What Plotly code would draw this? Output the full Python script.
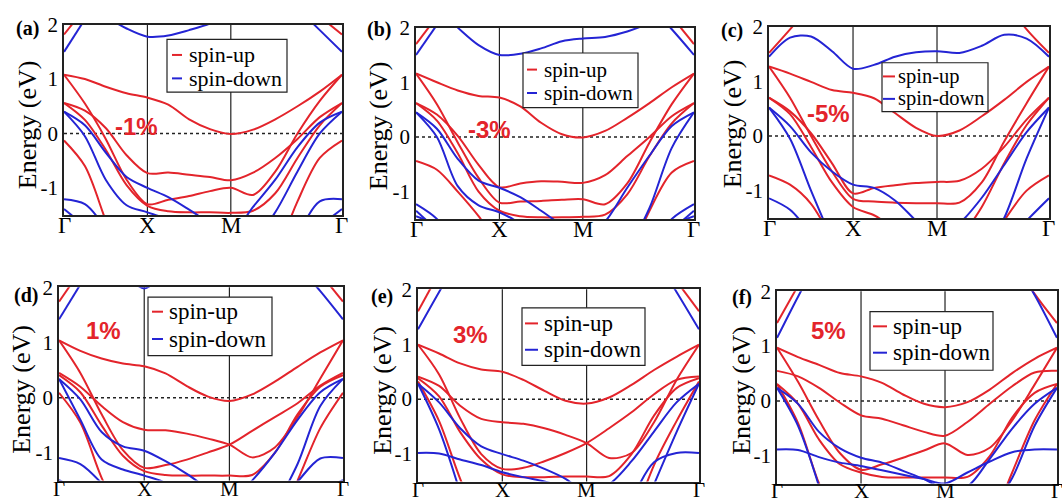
import plotly.graph_objects as go

N = None
# k-path grid (Γ=0, X=1, M=2, Γ=3.333)
K = [0, 0.25, 0.5, 0.75, 1, 1.25, 1.5, 1.75, 2, 2.267, 2.533, 2.8, 3.067, 3.333]
K_TICKS = [0, 1, 2, 3.333]
K_LABELS = ["Γ", "X", "M", "Γ"]
E_TICKS = [-1, 0, 1, 2]
E_LABELS = ["-1", "0", "1", "2"]
PANEL_LETTERS = ["(a)", "(b)", "(c)", "(d)", "(e)", "(f)"]
STRAINS = ["-1%", "-3%", "-5%", "1%", "3%", "5%"]
SERIES_NAMES = ["spin-up", "spin-down"]

# ---- band energies (eV) ----
a_up = [
    [1.08, 1.00, 0.86, 0.74, 0.66, 0.53, 0.26, 0.08, -0.01, 0.07, 0.26, 0.50, 0.77, 1.08],
    [1.08, 0.55, -0.10, -0.85, -1.30, -1.22, -1.15, -1.06, -1.00, -1.13, -0.70, 0.00, 0.60, 1.08],
    [0.56, 0.42, 0.10, -0.40, -0.73, -0.72, -0.76, -0.80, -0.86, -0.72, -0.45, -0.10, 0.30, 0.56],
    [0.56, 0.25, -0.30, -0.95, -1.33, -1.43, -1.45, -1.45, -1.46, -1.42, -1.10, -0.45, 0.15, 0.56],
    [-0.13, -0.60, -1.60, -2.60, N, N, N, N, N, N, -2.30, -1.25, -0.45, -0.13],
    [1.82, 2.30, N, N, N, N, N, N, N, N, N, N, 2.15, 1.82],
]
a_dn = [
    [0.40, 0.15, -0.35, -0.80, -1.00, -1.17, -1.40, -1.65, -1.85, -1.35, -0.85, -0.25, 0.20, 0.40],
    [0.40, -0.05, -0.85, -1.32, -1.45, -1.60, -2.00, N, N, -2.00, -1.45, -0.70, 0.00, 0.40],
    [-1.21, -1.30, -1.75, N, N, N, N, N, N, N, N, -1.90, -1.25, -1.21],
    [-1.39, -1.70, N, N, N, N, N, N, N, N, N, N, -1.70, -1.39],
    [N, N, 2.15, 1.93, 1.78, 1.80, 1.90, 2.02, 2.20, N, N, N, N, N],
    [1.50, 2.10, N, N, N, N, N, N, N, N, N, 2.30, 1.90, 1.50],
]
b_up = [
    [1.16, 1.00, 0.85, 0.75, 0.72, 0.56, 0.26, 0.05, -0.01, 0.11, 0.35, 0.62, 0.91, 1.16],
    [1.16, 0.60, -0.10, -0.75, -1.20, -1.18, -1.17, -1.15, -1.14, -1.23, -0.85, -0.10, 0.60, 1.16],
    [0.62, 0.41, 0.02, -0.51, -0.92, -0.85, -0.81, -0.82, -0.84, -0.70, -0.35, 0.00, 0.38, 0.62],
    [0.62, 0.30, -0.30, -1.00, -1.35, -1.45, -1.47, -1.47, -1.46, -1.42, -1.05, -0.35, 0.25, 0.62],
    [-0.44, -0.60, -1.00, -1.45, -2.00, N, N, N, N, N, -2.30, -1.35, -0.65, -0.44],
    [1.70, 2.20, N, N, N, N, N, N, N, N, N, N, 2.20, 1.70],
]
b_dn = [
    [0.45, 0.15, -0.40, -0.80, -0.93, -1.10, -1.35, -1.62, -1.90, -1.55, -0.93, -0.34, 0.20, 0.45],
    [0.45, 0.00, -0.90, -1.25, -1.38, -1.60, -2.20, N, N, N, -2.10, -1.30, -0.20, 0.45],
    [-1.23, -1.50, -2.00, N, N, N, N, N, N, N, N, -2.00, -1.50, -1.23],
    [-1.35, -1.70, N, N, N, N, N, N, N, N, N, N, -1.70, -1.35],
    [-1.45, -1.60, N, N, N, N, N, N, N, N, N, N, -1.60, -1.45],
    [N, 2.35, 2.00, 1.68, 1.50, 1.52, 1.62, 1.75, 1.80, 1.83, 1.93, 2.08, N, N],
    [1.50, 2.05, N, N, N, N, N, N, N, N, N, 2.40, 1.97, 1.50],
]
c_up = [
    [1.27, 1.14, 0.99, 0.84, 0.79, 0.69, 0.42, 0.15, 0.00, 0.10, 0.36, 0.66, 0.99, 1.27],
    [1.27, 0.70, 0.00, -0.65, -1.15, -1.20, -1.22, -1.23, -1.23, -1.22, -0.85, -0.10, 0.60, 1.27],
    [0.70, 0.45, 0.05, -0.50, -1.05, -0.95, -0.90, -0.86, -0.84, -0.82, -0.60, -0.20, 0.30, 0.70],
    [0.70, 0.40, -0.20, -0.85, -1.30, -1.45, -1.70, -2.00, N, -1.90, -1.30, -0.50, 0.20, 0.70],
    [-0.72, -0.89, -1.24, -1.90, N, N, N, N, N, N, N, -1.55, -1.00, -0.72],
    [1.52, 1.95, 2.40, N, N, N, N, N, N, N, N, 2.50, 1.95, 1.52],
]
c_dn = [
    [0.52, 0.18, -0.30, -0.65, -0.89, -0.95, -1.18, -1.55, -1.90, -1.60, -1.13, -0.53, 0.07, 0.52],
    [0.52, -0.05, -1.00, -1.90, N, N, N, N, N, N, -2.20, -1.50, -0.41, 0.52],
    [-1.14, -1.35, -1.80, N, N, N, N, N, N, N, N, -2.00, -1.55, -1.14],
    [1.45, 1.80, 1.82, 1.55, 1.23, 1.30, 1.45, 1.53, 1.55, 1.52, 1.65, 1.85, 1.78, 1.45],
]
d_up = [
    [1.04, 0.85, 0.71, 0.62, 0.57, 0.44, 0.21, 0.02, -0.06, 0.06, 0.29, 0.56, 0.82, 1.04],
    [1.04, 0.45, -0.30, -0.95, -1.27, -1.22, -1.12, -0.99, -0.85, -0.60, -0.35, -0.10, 0.22, 0.45],
    [0.45, 0.20, -0.15, -0.44, -0.58, -0.59, -0.65, -0.74, -0.85, -1.08, -0.90, -0.35, 0.35, 1.04],
    [0.41, 0.10, -0.50, -1.05, -1.33, -1.40, -1.41, -1.41, -1.41, -1.40, -1.00, -0.30, 0.20, 0.41],
    [0.09, -0.45, -1.45, -2.20, N, N, N, N, N, N, -2.40, -1.50, -0.55, 0.09],
    [1.74, 2.30, N, N, N, N, N, N, N, N, N, N, 2.25, 1.74],
]
d_dn = [
    [0.34, -0.03, -0.62, -0.88, -0.96, -1.15, -1.38, -1.65, -1.90, -1.50, -1.00, -0.40, 0.10, 0.34],
    [0.34, -0.40, -1.12, -1.30, -1.41, -1.55, -2.00, N, N, N, -2.00, -1.20, -0.15, 0.34],
    [-1.09, -1.20, -1.55, N, N, N, N, N, N, N, -2.00, -1.52, -1.10, -1.09],
    [-1.49, -1.70, N, N, N, N, N, N, N, N, N, N, -1.70, -1.49],
    [N, N, N, 2.30, 1.98, 2.30, N, N, N, N, N, N, N, N],
    [1.42, 2.05, N, N, N, N, N, N, N, N, N, 2.40, 1.93, 1.42],
]
e_up = [
    [0.99, 0.83, 0.65, 0.54, 0.50, 0.35, 0.15, -0.03, -0.08, 0.03, 0.26, 0.53, 0.77, 0.99],
    [0.99, 0.45, -0.35, -1.00, -1.27, -1.25, -1.13, -0.98, -0.80, -0.53, -0.24, 0.09, 0.35, 0.41],
    [0.41, 0.24, -0.12, -0.36, -0.42, -0.45, -0.53, -0.65, -0.80, -1.07, -0.98, -0.42, 0.35, 0.99],
    [0.38, 0.05, -0.60, -1.10, -1.37, -1.42, -1.42, -1.41, -1.41, -1.40, -1.00, -0.30, 0.20, 0.38],
    [0.32, -0.40, -1.45, -2.30, N, N, N, N, N, N, -2.30, -1.20, -0.40, 0.32],
    [1.60, 2.30, N, N, N, N, N, N, N, N, N, N, 2.15, 1.60],
]
e_dn = [
    [0.28, -0.06, -0.53, -0.86, -1.00, -1.12, -1.27, -1.45, -1.70, -1.55, -1.13, -0.59, -0.06, 0.28],
    [0.28, -0.55, -1.70, N, N, N, N, N, N, N, N, -1.55, -0.60, 0.28],
    [-0.98, -0.99, -1.10, -1.20, -1.33, -1.42, -1.50, -1.60, N, N, -1.85, -1.15, -0.98, -0.98],
    [1.27, 1.95, 2.60, N, N, N, N, N, N, N, N, 2.60, 1.95, 1.27],
]
f_up = [
    [0.97, 0.80, 0.66, 0.51, 0.45, 0.33, 0.12, -0.05, -0.11, -0.02, 0.21, 0.51, 0.77, 0.97],
    [0.55, 0.45, 0.24, -0.03, -0.26, -0.32, -0.44, -0.56, -0.63, -0.38, -0.05, 0.27, 0.52, 0.55],
    [0.97, 0.35, -0.35, -0.95, -1.25, -1.15, -1.03, -0.90, -0.77, -0.98, -0.85, -0.35, 0.30, 0.97],
    [0.31, -0.05, -0.70, -1.15, -1.30, -1.38, -1.39, -1.39, -1.39, -1.38, -1.00, -0.30, 0.15, 0.31],
    [0.31, -0.40, -1.50, -2.30, N, N, N, N, N, N, -2.30, -1.30, -0.35, 0.31],
    [1.42, 2.10, N, N, N, N, N, N, N, N, N, 2.60, 1.95, 1.42],
]
f_dn = [
    [0.24, -0.05, -0.56, -0.86, -1.03, -1.12, -1.27, -1.42, -1.60, -1.55, -1.05, -0.50, -0.05, 0.24],
    [0.24, -0.45, -1.55, N, N, N, N, N, N, N, -2.00, -1.40, -0.45, 0.24],
    [-0.88, -0.89, -1.02, -1.12, -1.18, -1.26, -1.34, -1.42, -1.50, -1.30, -1.10, -0.93, -0.88, -0.88],
    [1.15, 1.90, 2.60, N, N, N, N, N, N, N, N, 2.60, 1.93, 1.15],
]
UP = [a_up, b_up, c_up, d_up, e_up, f_up]
DOWN = [a_dn, b_dn, c_dn, d_dn, e_dn, f_dn]

# ---- layout (pixels) ----
W, H = 1062, 504
RED = "#e3242b"
BLUE = "#2424d4"
SERIF = "Liberation Serif"
SANS = "Liberation Sans"
FRAMES = [(64, 342, 13, 208), (416, 694, 16, 212), (769, 1049, 15, 211),
          (59, 343, 282, 480), (418, 699, 284, 481), (777, 1057, 286, 483)]
LETTER_POS = [(27, 17), (379, 18), (732, 19), (26, 290), (382, 291), (742, 292)]
PCT_POS = [(137, 117), (489, 120), (828, 104), (103, 326), (470, 330), (828, 326)]
TITLE_POS = [(27, 116), (378, 117), (732, 115), (22, 387), (383, 388), (742, 388)]
LEG_BOX = [(167, 287, 28, 82), (523, 638, 42, 98), (882, 988, 52, 102),
           (148, 272, 292, 352), (522, 645, 303, 362), (870, 993, 307, 367)]
LEG_ROWS = [(44, 68), (59, 83), (66, 89), (307, 335), (319, 346), (322, 349)]
LEG_DASH = [(172, 182), (527, 537), (883, 895), (152, 163), (525, 538), (873, 887)]
LEG_TEXT_X = [188, 543, 897, 168, 543, 892]
LEG_FONT = [22, 21, 20.5, 23, 23, 23]
XLABEL_Y = [219, 223, 222, 489, 490, 491]
XLABEL_FONT = [23, 23, 23, 21, 21, 21]


def px(x):
    return x / W


def py(y):
    return 1 - y / H


fig = go.Figure()
layout = dict(width=W, height=H, margin=dict(l=0, r=0, t=0, b=0),
              paper_bgcolor="white", plot_bgcolor="white", showlegend=False,
              autosize=False)
shapes, annos = [], []

for i in range(6):
    s = "" if i == 0 else str(i + 1)
    xr, yr = "x" + s, "y" + s
    l, r, t, b = FRAMES[i]
    for band in UP[i]:
        fig.add_trace(go.Scatter(x=K, y=band, mode="lines", name=SERIES_NAMES[0],
                                 line=dict(color=RED, width=2, shape="spline", smoothing=0.9),
                                 connectgaps=False, xaxis=xr, yaxis=yr, hoverinfo="skip"))
    for band in DOWN[i]:
        fig.add_trace(go.Scatter(x=K, y=band, mode="lines", name=SERIES_NAMES[1],
                                 line=dict(color=BLUE, width=2, shape="spline", smoothing=0.9),
                                 connectgaps=False, xaxis=xr, yaxis=yr, hoverinfo="skip"))
    layout["xaxis" + s] = dict(domain=[px(l), px(r)], range=[-0.0005, 3.3335], anchor=yr,
                               tickvals=K_TICKS, showticklabels=False, ticks="",
                               showline=True, mirror=True, linecolor="#222", linewidth=1.5,
                               showgrid=False, zeroline=False)
    layout["yaxis" + s] = dict(domain=[py(b), py(t)], range=[-1.5, 2], anchor=xr,
                               tickvals=E_TICKS, ticktext=E_LABELS, ticks="",
                               showline=True, mirror=True, linecolor="#222", linewidth=1.5,
                               showgrid=False, zeroline=False,
                               tickfont=dict(family=SERIF, size=21, color="black"))
    # k-point labels under the frame
    for kv, lab in zip(K_TICKS, K_LABELS):
        annos.append(dict(text=lab, xref=xr, yref="paper", x=kv, y=py(XLABEL_Y[i]),
                          xanchor="center", yanchor="middle", showarrow=False, borderpad=0,
                          font=dict(family=SERIF, size=XLABEL_FONT[i], color="black")))
    for kv in K_TICKS[1:3]:
        shapes.append(dict(type="line", xref=xr, yref=yr + " domain", x0=kv, x1=kv, y0=0, y1=1,
                           line=dict(color="#222", width=1.2), layer="below"))
    shapes.append(dict(type="line", xref=xr + " domain", yref=yr, x0=0, x1=1, y0=0, y1=0,
                       line=dict(color="#222", width=1.5, dash="dot"), layer="below"))
    # legend box
    bl, br, bt, bb = LEG_BOX[i]
    shapes.append(dict(type="rect", xref="paper", yref="paper", x0=px(bl), x1=px(br),
                       y0=py(bb), y1=py(bt), line=dict(color="#222", width=1.2),
                       fillcolor="white", layer="above"))
    for row_y, col, name in zip(LEG_ROWS[i], [RED, BLUE], SERIES_NAMES):
        d0, d1 = LEG_DASH[i]
        shapes.append(dict(type="line", xref="paper", yref="paper", x0=px(d0), x1=px(d1),
                           y0=py(row_y), y1=py(row_y), line=dict(color=col, width=2),
                           layer="above"))
        annos.append(dict(text=name, xref="paper", yref="paper", x=px(LEG_TEXT_X[i]),
                          y=py(row_y), xanchor="left", yanchor="middle", showarrow=False,
                          borderpad=0,
                          font=dict(family=SERIF, size=LEG_FONT[i], color="black")))
    # panel letter
    annos.append(dict(text="<b>%s</b>" % PANEL_LETTERS[i], xref="paper", yref="paper",
                      x=px(LETTER_POS[i][0]), y=py(LETTER_POS[i][1]), xanchor="center",
                      yanchor="middle", showarrow=False,
                      font=dict(family=SERIF, size=20, color="black")))
    # strain label
    annos.append(dict(text="<b>%s</b>" % STRAINS[i], xref="paper", yref="paper",
                      x=px(PCT_POS[i][0]), y=py(PCT_POS[i][1]), xanchor="center",
                      yanchor="middle", showarrow=False,
                      font=dict(family=SANS, size=24, color="#e3242b")))
    # y title
    annos.append(dict(text="Energy (eV)", xref="paper", yref="paper", textangle=-90,
                      x=px(TITLE_POS[i][0]), y=py(TITLE_POS[i][1]), xanchor="center",
                      yanchor="middle", showarrow=False,
                      font=dict(family=SERIF, size=26, color="black")))

layout["shapes"] = shapes
layout["annotations"] = annos
fig.update_layout(**layout)
fig.write_html("out.html")
